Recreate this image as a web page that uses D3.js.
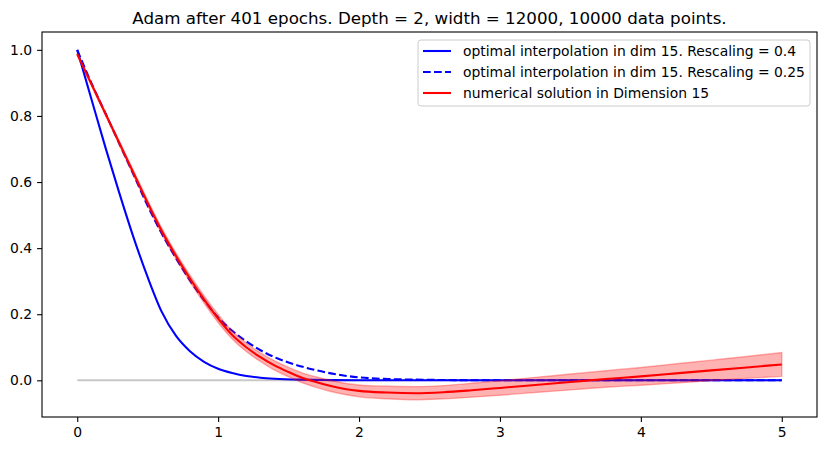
<!DOCTYPE html>
<html lang="en">
<head>
  <meta charset="UTF-8" />
  <title>Adam after 401 epochs</title>
  <style>
    html, body { margin: 0; padding: 0; background: #fff; }
    svg { display: block; font-family: "DejaVu Sans", sans-serif; }
    .tick text { font-size: 13.9px; fill: #000; }
    .legend text { font-size: 13.9px; fill: #000; dominant-baseline: central; }
  </style>
</head>
<body>
  <svg width="826" height="451"></svg>
  <script src="https://d3js.org/d3.v7.min.js"></script>
  <script>
    // values
    const xOptA = [0, 0.1, 0.2, 0.3, 0.4, 0.5, 0.6, 0.7, 0.8, 0.9, 1.0, 1.1, 1.2, 1.3, 1.4, 1.6, 1.8, 2.0, 3.0, 4.0, 5.0];
    const yOptA = [1.0, 0.852, 0.705, 0.565, 0.432, 0.312, 0.207, 0.135, 0.088, 0.056, 0.035, 0.022, 0.013, 0.008, 0.005, 0.002, 0.0007, 0, 0, 0, 0];

    const xOptB = [0, 0.1, 0.2, 0.3, 0.4, 0.5, 0.6, 0.7, 0.8, 0.9, 1.0, 1.1, 1.2, 1.3, 1.4, 1.5, 1.6, 1.7, 1.8, 1.9, 2.0, 2.2, 2.4, 2.6, 3.0, 4.0, 5.0];
    const yOptB = [1.0, 0.9, 0.808, 0.715, 0.622, 0.528, 0.444, 0.37, 0.302, 0.243, 0.19, 0.15, 0.118, 0.091, 0.07, 0.054, 0.041, 0.03, 0.021, 0.014, 0.009, 0.004, 0.002, 0.001, 0, 0, 0];

    const xNum = [0, 0.1, 0.2, 0.3, 0.4, 0.5, 0.6, 0.7, 0.8, 0.9, 1.0, 1.1, 1.2, 1.3, 1.4, 1.5, 1.6, 1.7, 1.8, 1.9, 2.0, 2.2, 2.4, 2.6, 2.8, 3.0, 3.25, 3.5, 3.75, 4.0, 4.25, 4.5, 4.75, 5.0];
    const yNum = [0.987, 0.897, 0.807, 0.717, 0.627, 0.537, 0.452, 0.377, 0.308, 0.245, 0.187, 0.137, 0.1, 0.07, 0.045, 0.025, 0.007, -0.006, -0.017, -0.026, -0.032, -0.037, -0.039, -0.036, -0.030, -0.023, -0.014, -0.005, 0.004, 0.012, 0.021, 0.030, 0.039, 0.048];
    const spreadNum = [0.004, 0.005, 0.005, 0.006, 0.007, 0.008, 0.009, 0.009, 0.01, 0.011, 0.012, 0.012, 0.013, 0.013, 0.014, 0.014, 0.015, 0.016, 0.017, 0.017, 0.018, 0.019, 0.02, 0.02, 0.021, 0.022, 0.023, 0.024, 0.025, 0.027, 0.029, 0.031, 0.033, 0.036];

    const xTicks = [0, 1, 2, 3, 4, 5];
    const yTicks = [0.0, 0.2, 0.4, 0.6, 0.8, 1.0];
    const legendLabels = [
      "optimal interpolation in dim 15. Rescaling = 0.4",
      "optimal interpolation in dim 15. Rescaling = 0.25",
      "numerical solution in Dimension 15"
    ];
    const titleText = "Adam after 401 epochs. Depth = 2, width = 12000, 10000 data points.";

    const svg = d3.select("svg");
    const plotLeft = 42, plotRight = 817, plotTop = 32, plotBottom = 417;
    const lw = 2.08; // 1.5pt at 100 dpi

    const x = d3.scaleLinear().domain([-0.25, 5.25]).range([plotLeft, plotRight]);
    const y = d3.scaleLinear().domain([-0.111, 1.054]).range([plotBottom, plotTop]);

    const plot = svg.append("g");

    const line = d3.line().x(d => x(d[0])).y(d => y(d[1])).curve(d3.curveMonotoneX);
    const zip = (xs, ys) => xs.map((v, i) => [v, ys[i]]);

    // zero reference line
    plot.append("path")
      .attr("d", line([[0, 0], [5, 0]]))
      .attr("fill", "none").attr("stroke", "#c8c8c8").attr("stroke-width", lw);

    plot.append("path")
      .attr("d", line(zip(xOptA, yOptA)))
      .attr("fill", "none").attr("stroke", "#0000ff").attr("stroke-width", lw);

    plot.append("path")
      .attr("d", line(zip(xOptB, yOptB)))
      .attr("fill", "none").attr("stroke", "#0000ff").attr("stroke-width", lw)
      .attr("stroke-dasharray", "7.7,3.3");

    const area = d3.area()
      .x((d, i) => x(xNum[i]))
      .y0((d, i) => y(yNum[i] - spreadNum[i]))
      .y1((d, i) => y(yNum[i] + spreadNum[i]))
      .curve(d3.curveMonotoneX);

    plot.append("path")
      .attr("d", area(xNum))
      .attr("fill", "#ff0000").attr("fill-opacity", 0.3)
      .attr("stroke", "#ff0000").attr("stroke-opacity", 0.3).attr("stroke-width", 1.4);

    plot.append("path")
      .attr("d", line(zip(xNum, yNum)))
      .attr("fill", "none").attr("stroke", "#ff0000").attr("stroke-width", lw);

    // axes
    const xAxis = svg.append("g")
      .attr("transform", `translate(0,${plotBottom})`)
      .call(d3.axisBottom(x).tickValues(xTicks).tickFormat(d3.format("d")).tickSize(4.9).tickPadding(4.9));
    const yAxis = svg.append("g")
      .attr("transform", `translate(${plotLeft},0)`)
      .call(d3.axisLeft(y).tickValues(yTicks).tickFormat(d3.format(".1f")).tickSize(4.9).tickPadding(4.9));
    [xAxis, yAxis].forEach(a => {
      a.select(".domain").remove();
      a.selectAll(".tick line").attr("stroke", "#000").attr("stroke-width", 1.1);
      a.attr("font-family", null).attr("font-size", null);
    });

    // frame
    svg.append("rect")
      .attr("x", plotLeft).attr("y", plotTop)
      .attr("width", plotRight - plotLeft).attr("height", plotBottom - plotTop)
      .attr("fill", "none").attr("stroke", "#000").attr("stroke-width", 1.1);

    svg.append("text")
      .attr("x", (plotLeft + plotRight) / 2).attr("y", 24)
      .attr("text-anchor", "middle")
      .attr("font-size", 16.7)
      .text(titleText);

    // legend
    const legend = svg.append("g").attr("class", "legend");
    legend.append("rect")
      .attr("x", 418).attr("y", 40).attr("width", 392).attr("height", 66)
      .attr("rx", 3)
      .attr("fill", "#fff").attr("fill-opacity", 0.8)
      .attr("stroke", "#cccccc").attr("stroke-width", 1);
    const styles = [
      { color: "#0000ff", dash: null },
      { color: "#0000ff", dash: "7.7,3.3" },
      { color: "#ff0000", dash: null }
    ];
    legendLabels.forEach((lab, i) => {
      const cy = 51 + i * 21;
      legend.append("line")
        .attr("x1", 423).attr("x2", 451).attr("y1", cy).attr("y2", cy)
        .attr("stroke", styles[i].color).attr("stroke-width", lw)
        .attr("stroke-dasharray", styles[i].dash);
      legend.append("text").attr("x", 463).attr("y", cy).text(lab);
    });
  </script>
</body>
</html>
